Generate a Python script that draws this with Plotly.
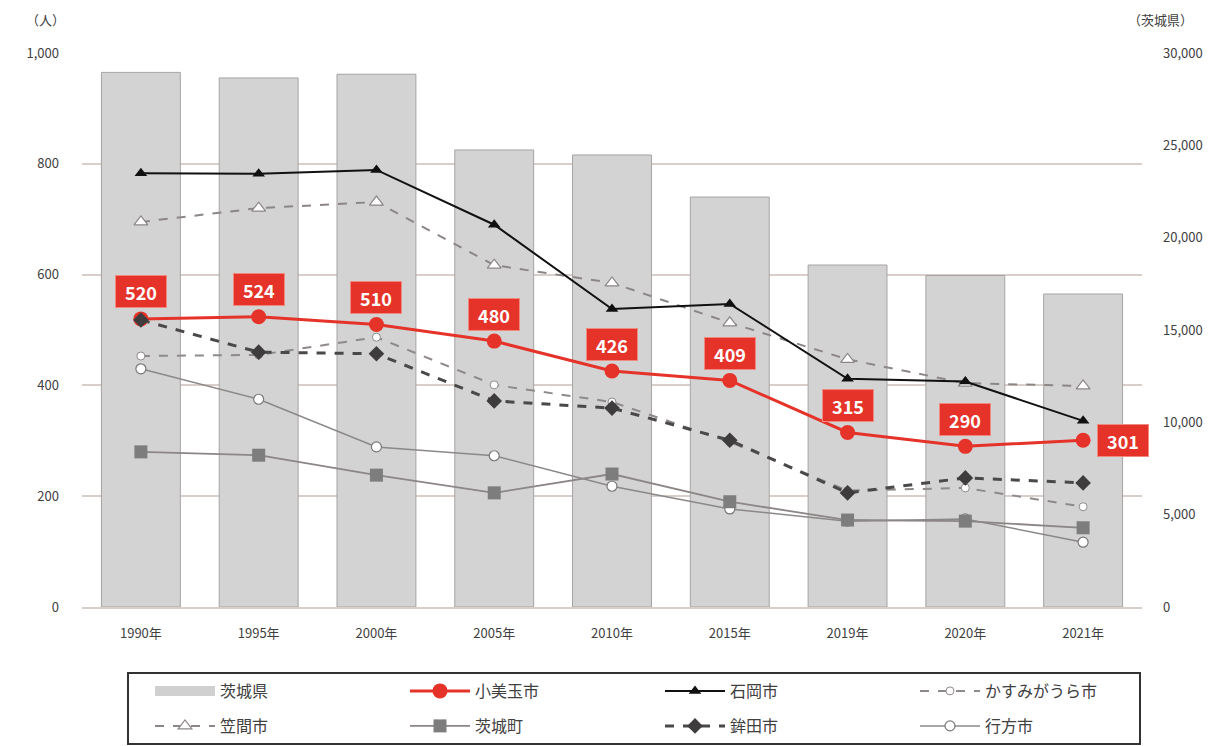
import plotly.graph_objects as go

# Survey years (category axis)
years = ["1990年", "1995年", "2000年", "2005年", "2010年", "2015年", "2019年", "2020年", "2021年"]

# Prefecture total (right axis)
ibaraki_pref = [28950, 28650, 28850, 24750, 24480, 22200, 18520, 17950, 16950]

# Municipalities (left axis)
omitama = [520, 524, 510, 480, 426, 409, 315, 290, 301]
ishioka = [783, 782, 789, 690, 538, 547, 412, 407, 336]
kasumigaura = [453, 455, 487, 401, 370, 298, 210, 215, 181]
kasama = [695, 720, 731, 617, 585, 513, 447, 404, 399]
ibaraki_town = [280, 274, 238, 206, 240, 190, 157, 155, 143]
hokota = [518, 460, 457, 372, 359, 301, 206, 233, 224]
namegata = [430, 375, 289, 273, 218, 177, 155, 159, 117]

FONT = "Noto Sans CJK JP, Noto Sans, sans-serif"
RED = "#e6332a"
GRID = "#d8cfcb"
TXT = "#404040"

W, H = 1232, 746
ML, MR, MT, MB = 82, 90, 53, 139
PW, PH = W - ML - MR, H - MT - MB


def px_x(p):
    return (p - ML) / PW


def px_y(p):
    return (H - MB - p) / PH


fig = go.Figure()

# Prefecture bars sit on the base axis (drawn underneath the lines)
fig.add_trace(go.Bar(
    x=years, y=ibaraki_pref, name="茨城県", yaxis="y",
    marker=dict(color="#d3d3d3", line=dict(color="#a8a3a3", width=1)),
    showlegend=False,
))
# Wide swatch for the prefecture entry in the key
fig.add_trace(go.Scatter(
    x=[None], y=[None], name="茨城県", yaxis="y2", mode="lines",
    line=dict(color="#d0d0d0", width=11), legend="legend", legendrank=1,
))

fig.add_trace(go.Scatter(
    x=years, y=namegata, name="行方市", yaxis="y2", mode="lines+markers",
    line=dict(color="#8c8888", width=1.5),
    marker=dict(symbol="circle", size=10, color="white", line=dict(color="#7a7676", width=1.2)),
    legend="legend2", legendrank=4,
))
fig.add_trace(go.Scatter(
    x=years, y=ibaraki_town, name="茨城町", yaxis="y2", mode="lines+markers",
    line=dict(color="#8c8686", width=1.8),
    marker=dict(symbol="square", size=13, color="#7d7d7d"),
    legend="legend2", legendrank=2,
))
fig.add_trace(go.Scatter(
    x=years, y=kasumigaura, name="かすみがうら市", yaxis="y2", mode="lines+markers",
    line=dict(color="#8f8a8a", width=2, dash="dash"),
    marker=dict(symbol="circle", size=8, color="white", line=dict(color="#8f8a8a", width=1)),
    legend="legend", legendrank=4,
))
fig.add_trace(go.Scatter(
    x=years, y=kasama, name="笠間市", yaxis="y2", mode="lines+markers",
    line=dict(color="#8c8686", width=2, dash="dash"),
    marker=dict(symbol="triangle-up", size=12, color="white", line=dict(color="#8c8686", width=1.2)),
    legend="legend2", legendrank=1,
))
fig.add_trace(go.Scatter(
    x=years, y=ishioka, name="石岡市", yaxis="y2", mode="lines+markers",
    line=dict(color="#111111", width=2),
    marker=dict(symbol="triangle-up", size=11, color="#111111"),
    legend="legend", legendrank=3,
))
fig.add_trace(go.Scatter(
    x=years, y=omitama, name="小美玉市", yaxis="y2", mode="lines+markers",
    line=dict(color=RED, width=3),
    marker=dict(symbol="circle", size=15, color=RED),
    legend="legend", legendrank=2,
))
fig.add_trace(go.Scatter(
    x=years, y=hokota, name="鉾田市", yaxis="y2", mode="lines+markers",
    line=dict(color="#4a4848", width=3, dash="dash"),
    marker=dict(symbol="diamond", size=12, color="#3e3c3c"),
    legend="legend2", legendrank=3,
))

# Value labels for 小美玉市
for i, (yr, v) in enumerate(zip(years, omitama)):
    last = i == len(years) - 1
    fig.add_annotation(
        x=yr, y=v, xref="x", yref="y2",
        text=f"<b>{v}</b>", showarrow=False,
        font=dict(family=FONT, size=18, color="white"),
        bgcolor=RED, bordercolor="#f08a80", borderwidth=1, borderpad=1,
        width=48, height=29,
        xshift=40 if last else 0, yshift=0 if last else 27,
    )

# Axis unit captions
fig.add_annotation(x=px_x(45), y=px_y(19), xref="paper", yref="paper", text="（人）",
                   showarrow=False, xanchor="center", yanchor="middle",
                   font=dict(family=FONT, size=13, color=TXT))
fig.add_annotation(x=px_x(1160), y=px_y(19), xref="paper", yref="paper", text="（茨城県）",
                   showarrow=False, xanchor="center", yanchor="middle",
                   font=dict(family=FONT, size=13, color=TXT))

# Frame around the key
fig.add_shape(type="rect", xref="paper", yref="paper",
              x0=px_x(128), x1=px_x(1140), y0=px_y(673), y1=px_y(744),
              line=dict(color="#333333", width=2), fillcolor="rgba(0,0,0,0)")

legend_common = dict(
    orientation="h", xref="container", yref="container",
    xanchor="left", yanchor="middle",
    entrywidth=180, entrywidthmode="pixels",
    borderwidth=0, bgcolor="rgba(0,0,0,0)",
    font=dict(family=FONT, size=16, color=TXT),
    itemwidth=60, tracegroupgap=0,
)

fig.update_layout(
    width=W, height=H,
    margin=dict(l=ML, r=MR, t=MT, b=MB, autoexpand=False),
    paper_bgcolor="white", plot_bgcolor="white",
    font=dict(family=FONT, size=13, color=TXT),
    bargap=0.33,
    showlegend=True,
    xaxis=dict(
        type="category", range=[-0.5, len(years) - 0.5],
        showgrid=False, showline=True, linecolor=GRID, linewidth=1.5,
        ticks="", tickfont=dict(size=13, color=TXT), ticklabelstandoff=14,
        automargin=False,
    ),
    yaxis=dict(
        side="right", range=[0, 30000], dtick=5000, tickformat=",",
        showgrid=False, zeroline=False, ticks="", tickfont=dict(size=13, color=TXT),
        ticklabelstandoff=20, automargin=False,
    ),
    yaxis2=dict(
        overlaying="y", side="left", range=[0, 1000], dtick=200, tickformat=",",
        showgrid=True, gridcolor=GRID, gridwidth=1.5, zeroline=False, ticks="",
        tickfont=dict(size=13, color=TXT), ticklabelstandoff=22, automargin=False,
    ),
    legend=dict(x=150 / W, y=1 - 691 / H, **legend_common),
    legend2=dict(x=150 / W, y=1 - 726 / H, **legend_common),
)

fig.write_html("out.html")
